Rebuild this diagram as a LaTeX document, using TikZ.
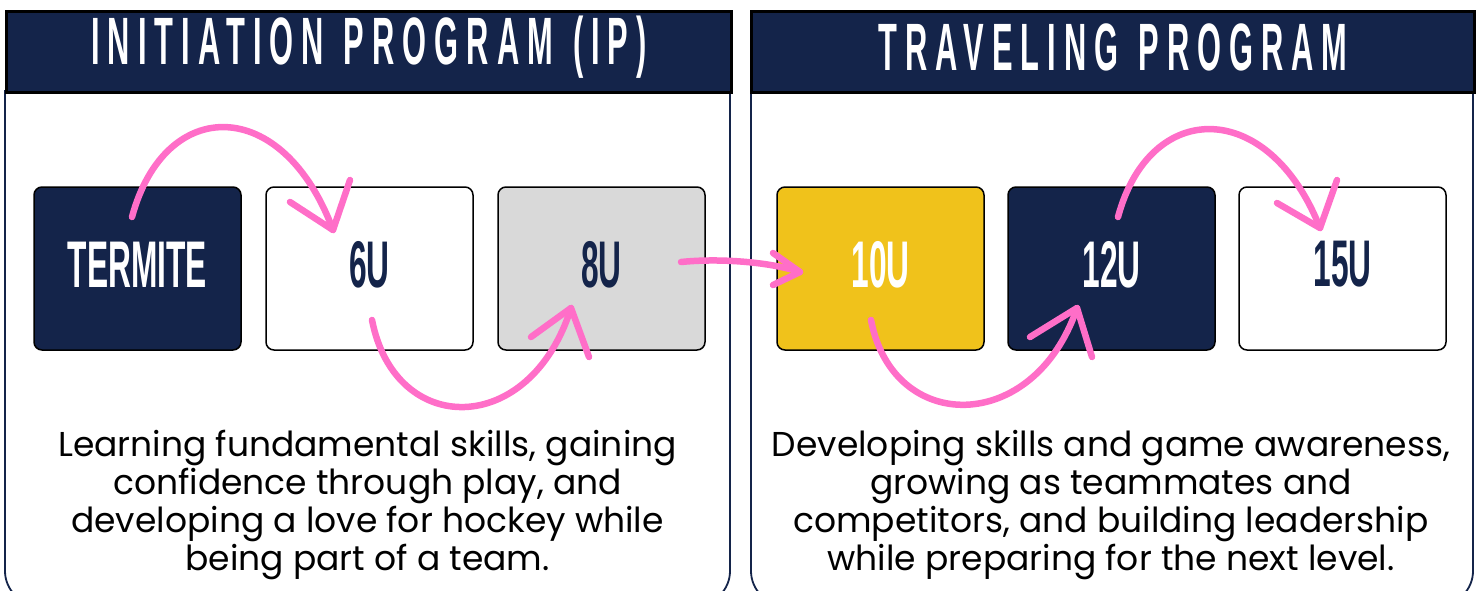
\documentclass[tikz,border=0pt]{standalone}
\usepackage{fontspec}
\setmainfont{Poppins}
\newfontfamily\condfont[FakeStretch=0.48]{Liberation Sans}
\newfontfamily\titlefont[FakeStretch=0.46,LetterSpace=12]{Liberation Sans}
\definecolor{navy}{RGB}{20,36,74}
\definecolor{gold}{RGB}{240,194,27}
\definecolor{lgray}{RGB}{217,217,217}
\definecolor{pink}{RGB}{255,110,200}
\newcommand{\wgap}{\hspace{20pt}}
\tikzset{
  agebox/.style={draw=black,line width=1.5pt,rounded corners=8pt,minimum width=207pt,minimum height=163pt,inner sep=0pt},
  agelabel/.style={font=\condfont\bfseries\fontsize{66}{66}\selectfont},
  header/.style={fill=navy,draw=black,line width=2.5pt},
  paneline/.style={draw=navy,line width=1.8pt,rounded corners=34pt},
  titletext/.style={text=white,font=\titlefont\bfseries\fontsize{67}{67}\selectfont},
  bodytext/.style={align=center,font=\fontsize{34.5}{38}\selectfont,text=black},
  pinkline/.style={draw=pink,line width=6.5pt,line cap=round,line join=round},
}
\begin{document}
\begin{tikzpicture}[x=1pt,y=-1pt]
\useasboundingbox (0,0) rectangle (1481,590);
\clip (0,0) rectangle (1481,590);
% panels
\draw[paneline] (5,90) -- (5,605) -- (730,605) -- (730,90);
\draw[paneline] (751,90) -- (751,605) -- (1473,605) -- (1473,90);
\node[header,minimum width=725pt,minimum height=81pt,anchor=north west,inner sep=0pt] (h1) at (5,10) {};
\node[header,minimum width=723pt,minimum height=81pt,anchor=north west,inner sep=0pt] (h2) at (750,10) {};
\node[titletext] (t1) at (369,47) {INITIATION\wgap PROGRAM\wgap (IP)};
\node[titletext] (t2) at (1113,47) {TRAVELING\wgap PROGRAM};
% boxes
\node[agebox,fill=navy] (b1) at (137.5,268.5) {};
\node[agebox,fill=white] (b2) at (369.5,268.5) {};
\node[agebox,fill=lgray] (b3) at (601.5,268.5) {};
\node[agebox,fill=gold] (b4) at (880.5,268.5) {};
\node[agebox,fill=navy] (b5) at (1111.5,268.5) {};
\node[agebox,fill=white] (b6) at (1342.5,268.5) {};
\node[agelabel,text=white] (l1) at ([yshift=4pt]b1.center) {TERMITE};
\node[agelabel,text=navy] (l2) at ([yshift=4pt]b2.center) {6U};
\node[agelabel,text=navy] (l3) at ([yshift=4pt]b3.center) {8U};
\node[agelabel,text=white] (l4) at ([yshift=4pt]b4.center) {10U};
\node[agelabel,text=white] (l5) at ([yshift=4pt]b5.center) {12U};
\node[agelabel,text=navy] (l6) at ([yshift=4pt]b6.center) {15U};
% body text
\node[bodytext] (d1) at (367.5,505) {Learning fundamental skills, gaining\\confidence through play, and\\developing a love for hockey while\\being part of a team.};
\node[bodytext] (d2) at (1111,505) {Developing skills and game awareness,\\growing as teammates and\\competitors, and building leadership\\while preparing for the next level.};
% arrow coordinates
\coordinate (a1s) at (132,217); \coordinate (a1t) at (333,230);
\coordinate (a1p) at (290,202); \coordinate (a1q) at (350,180);
\coordinate (a2s) at (372,320); \coordinate (a2t) at (571,308);
\coordinate (a2p) at (531,337); \coordinate (a2q) at (589,357);
\coordinate (a3s) at (681,262); \coordinate (a3t) at (800,272);
\coordinate (a3p) at (773,253); \coordinate (a3q) at (773,285);
\coordinate (a4s) at (871,320); \coordinate (a4t) at (1077,308);
\coordinate (a4p) at (1030,337); \coordinate (a4q) at (1092,357);
\coordinate (a5s) at (1118,217); \coordinate (a5t) at (1320,228);
\coordinate (a5p) at (1277,203); \coordinate (a5q) at (1337,180);
% arrows
\draw[pinkline] (a1s) .. controls (165,95) and (283,95) .. (a1t);
\draw[pinkline] (a1p) -- (a1t) -- (a1q);
\draw[pinkline] (a2s) .. controls (395,438) and (530,438) .. (a2t);
\draw[pinkline] (a2p) -- (a2t) -- (a2q);
\draw[pinkline] (a3s) .. controls (720,258) and (770,262) .. (a3t);
\draw[pinkline] (a3p) -- (a3t) -- (a3q);
\draw[pinkline] (a4s) .. controls (893,435) and (1034,435) .. (a4t);
\draw[pinkline] (a4p) -- (a4t) -- (a4q);
\draw[pinkline] (a5s) .. controls (1150,98) and (1269,98) .. (a5t);
\draw[pinkline] (a5p) -- (a5t) -- (a5q);
\end{tikzpicture}
\end{document}
